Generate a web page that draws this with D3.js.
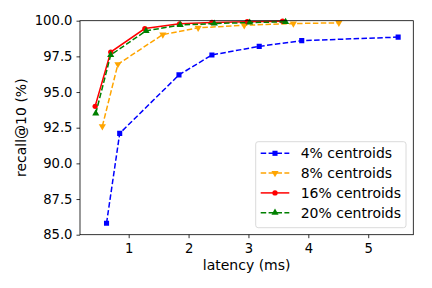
<!DOCTYPE html>
<html>
<head>
<meta charset="utf-8">
<script src="https://cdn.jsdelivr.net/npm/d3@7"></script>
<style>
  body { margin:0; background:#fff; }
  svg { font-family:"DejaVu Sans", sans-serif; }
</style>
</head>
<body>
<svg width="432" height="288"></svg>
<script>
const SERIES_NAMES = ["4% centroids", "8% centroids", "16% centroids", "20% centroids"];
const LATENCY_4 = [0.63, 0.85, 1.84, 2.39, 3.18, 3.89, 5.50];
const RECALL_4 = [85.8, 92.1, 96.2, 97.6, 98.2, 98.6, 98.85];
const LATENCY_8 = [0.56, 0.82, 1.57, 2.16, 2.93, 3.75, 4.51];
const RECALL_8 = [92.6, 96.95, 99.03, 99.5, 99.68, 99.8, 99.85];
const LATENCY_16 = [0.44, 0.70, 1.27, 1.85, 2.39, 2.98, 3.57];
const RECALL_16 = [94.0, 97.8, 99.45, 99.78, 99.88, 99.93, 99.96];
const LATENCY_20 = [0.45, 0.70, 1.29, 1.86, 2.43, 3.02, 3.62];
const RECALL_20 = [93.5, 97.6, 99.29, 99.7, 99.8, 99.87, 99.92];
const X_TICKS = [1, 2, 3, 4, 5];
const Y_TICKS = [85, 87.5, 90, 92.5, 95, 97.5, 100];

const styles = [
  {color:"blue", dash:"5.5,2.4", marker:d3.symbolSquare, size:26, rot:0},
  {color:"orange", dash:"5.5,2.4", marker:d3.symbolTriangle, size:22, rot:180},
  {color:"red", dash:null, marker:d3.symbolCircle, size:22, rot:0},
  {color:"green", dash:"5.5,2.4", marker:d3.symbolTriangle, size:22, rot:0},
];

const series = [
  {name:SERIES_NAMES[0], xs:LATENCY_4, ys:RECALL_4},
  {name:SERIES_NAMES[1], xs:LATENCY_8, ys:RECALL_8},
  {name:SERIES_NAMES[2], xs:LATENCY_16, ys:RECALL_16},
  {name:SERIES_NAMES[3], xs:LATENCY_20, ys:RECALL_20},
].map((s, i) => ({...s, style:styles[i], pts:s.xs.map((x, j) => [x, s.ys[j]])}));

const mLeft = 80, mRight = 413.3, mTop = 20.7, mBottom = 234.7;

// matplotlib style 5% margin on x
const allX = series.flatMap(s => s.xs);
const xmin = d3.min(allX), xmax = d3.max(allX);
const pad = (xmax - xmin) * 0.05;

const xScale = d3.scaleLinear()
.domain([xmin - pad, xmax + pad])
.range([mLeft, mRight]);

const yScale = d3.scaleLinear()
.domain([85, 100])
.range([mBottom, mTop]);

const svg = d3.select("svg");

svg.append("defs").append("clipPath").attr("id", "clip")
.append("rect")
.attr("x", mLeft).attr("y", mTop - 4)
.attr("width", mRight - mLeft).attr("height", mBottom - mTop + 4);

const xAxis = svg.append("g")
.attr("transform", `translate(0,${mBottom})`)
.call(d3.axisBottom(xScale).tickValues(X_TICKS).tickFormat(d3.format("d")).tickSize(3.5).tickPadding(5));

const yAxis = svg.append("g")
.attr("transform", `translate(${mLeft},0)`)
.call(d3.axisLeft(yScale).tickValues(Y_TICKS).tickFormat(d3.format(".1f")).tickSize(3.5).tickPadding(4));

[xAxis, yAxis].forEach(ax => {
  ax.select(".domain").remove();
  ax.selectAll("line").attr("stroke", "#000").attr("stroke-width", 0.8);
  ax.selectAll("text").attr("fill", "#000").style("font-size", "13.2px").style("font-family", "DejaVu Sans");
});

const line = d3.line()
.x(d => xScale(d[0]))
.y(d => yScale(d[1]));

const plot = svg.append("g").attr("clip-path", "url(#clip)");

series.forEach(s => {
  plot.append("path")
  .datum(s.pts)
  .attr("fill", "none")
  .attr("stroke", s.style.color)
  .attr("stroke-width", 1.5)
  .attr("stroke-dasharray", s.style.dash)
  .attr("d", line);

  plot.selectAll(null)
  .data(s.pts)
  .enter()
  .append("path")
  .attr("d", d3.symbol().type(s.style.marker).size(s.style.size))
  .attr("fill", s.style.color)
  .attr("transform", d => `translate(${xScale(d[0])},${yScale(d[1])}) rotate(${s.style.rot})`);
});

// frame
svg.append("rect")
.attr("x", mLeft).attr("y", mTop)
.attr("width", mRight - mLeft).attr("height", mBottom - mTop)
.attr("fill", "none")
.attr("stroke", "#000")
.attr("stroke-width", 0.8);

svg.append("text")
.attr("x", (mLeft + mRight) / 2)
.attr("y", 269.5)
.attr("text-anchor", "middle")
.style("font-size", "14px")
.text("latency (ms)");

svg.append("text")
.attr("transform", `translate(25.5,${(mTop + mBottom) / 2}) rotate(-90)`)
.attr("text-anchor", "middle")
.style("font-size", "14px")
.text("recall@10 (%)");

// legend
const legend = svg.append("g");
legend.append("rect")
.attr("x", 255.7).attr("y", 141.7)
.attr("width", 150.3).attr("height", 86)
.attr("rx", 2.5)
.attr("fill", "#fff")
.attr("fill-opacity", 0.8)
.attr("stroke", "#d0d0d0")
.attr("stroke-width", 0.8);

const items = legend.selectAll(".item")
.data(series)
.enter()
.append("g")
.classed("item", true)
.attr("transform", (d, i) => `translate(0,${153.3 + i * 19.8})`);

items.append("line")
.attr("x1", 260.7).attr("x2", 289.3)
.attr("stroke", d => d.style.color)
.attr("stroke-width", 1.5)
.attr("stroke-dasharray", d => d.style.dash);

items.append("path")
.attr("d", d => d3.symbol().type(d.style.marker).size(d.style.size)())
.attr("fill", d => d.style.color)
.attr("transform", d => `translate(275,0) rotate(${d.style.rot})`);

items.append("text")
.attr("x", 300.7)
.attr("dy", "0.35em")
.style("font-size", "14px")
.text(d => d.name);
</script>
</body>
</html>
